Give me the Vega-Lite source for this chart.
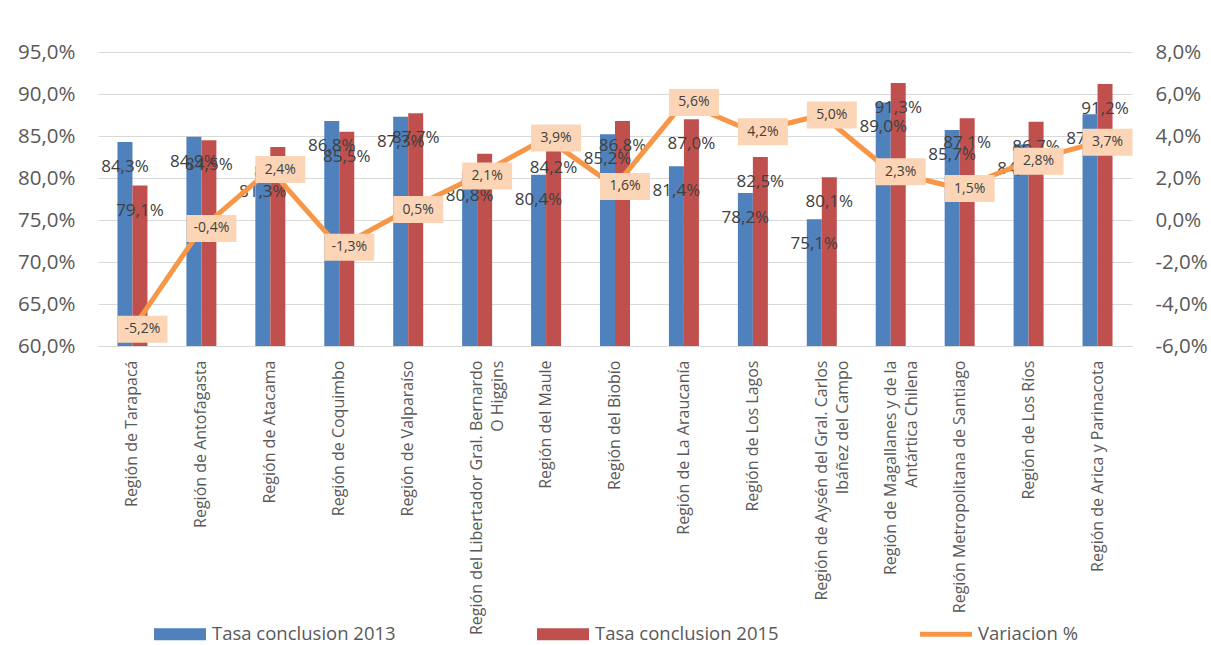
{
  "$schema": "https://vega.github.io/schema/vega-lite/v6.json",
  "width": 1034,
  "height": 294,
  "autosize": {"type": "none"},
  "padding": {"left": 98, "top": 52, "right": 79, "bottom": 299},
  "background": "white",
  "config": {
    "locale": {"number": {"decimal": ",", "thousands": ".", "grouping": [3], "currency": ["$", ""], "minus": "-"}},
    "view": {"stroke": null},
    "font": "Open Sans",
    "legend": {
      "orient": "none",
      "legendX": 56,
      "legendY": 556,
      "direction": "horizontal",
      "title": null,
      "symbolType": "M-1,-0.23H1V0.23H-1Z",
      "symbolSize": 2704,
      "symbolStrokeWidth": 0,
      "labelFont": "Open Sans",
      "labelFontSize": 18.5,
      "labelColor": "#595959",
      "labelOffset": 6,
      "labelLimit": 400,
      "columnPadding": 141
    }
  },
  "datasets": {
    "tasas": [
      {"region": "Región de Tarapacá", "serie": "Tasa conclusion 2013", "tasa": 0.843},
      {"region": "Región de Tarapacá", "serie": "Tasa conclusion 2015", "tasa": 0.791},
      {"region": "Región de Antofagasta", "serie": "Tasa conclusion 2013", "tasa": 0.849},
      {"region": "Región de Antofagasta", "serie": "Tasa conclusion 2015", "tasa": 0.845},
      {"region": "Región de Atacama", "serie": "Tasa conclusion 2013", "tasa": 0.813},
      {"region": "Región de Atacama", "serie": "Tasa conclusion 2015", "tasa": 0.837},
      {"region": "Región de Coquimbo", "serie": "Tasa conclusion 2013", "tasa": 0.868},
      {"region": "Región de Coquimbo", "serie": "Tasa conclusion 2015", "tasa": 0.855},
      {"region": "Región de Valparaíso", "serie": "Tasa conclusion 2013", "tasa": 0.873},
      {"region": "Región de Valparaíso", "serie": "Tasa conclusion 2015", "tasa": 0.877},
      {"region": "Región del Libertador Gral. Bernardo O Higgins", "serie": "Tasa conclusion 2013", "tasa": 0.808},
      {"region": "Región del Libertador Gral. Bernardo O Higgins", "serie": "Tasa conclusion 2015", "tasa": 0.829},
      {"region": "Región del Maule", "serie": "Tasa conclusion 2013", "tasa": 0.804},
      {"region": "Región del Maule", "serie": "Tasa conclusion 2015", "tasa": 0.842},
      {"region": "Región del Biobío", "serie": "Tasa conclusion 2013", "tasa": 0.852},
      {"region": "Región del Biobío", "serie": "Tasa conclusion 2015", "tasa": 0.868},
      {"region": "Región de La Araucanía", "serie": "Tasa conclusion 2013", "tasa": 0.814},
      {"region": "Región de La Araucanía", "serie": "Tasa conclusion 2015", "tasa": 0.870},
      {"region": "Región de Los Lagos", "serie": "Tasa conclusion 2013", "tasa": 0.782},
      {"region": "Región de Los Lagos", "serie": "Tasa conclusion 2015", "tasa": 0.825},
      {"region": "Región de Aysén del Gral. Carlos Ibáñez del Campo", "serie": "Tasa conclusion 2013", "tasa": 0.751},
      {"region": "Región de Aysén del Gral. Carlos Ibáñez del Campo", "serie": "Tasa conclusion 2015", "tasa": 0.801},
      {"region": "Región de Magallanes y de la Antártica Chilena", "serie": "Tasa conclusion 2013", "tasa": 0.890},
      {"region": "Región de Magallanes y de la Antártica Chilena", "serie": "Tasa conclusion 2015", "tasa": 0.913},
      {"region": "Región Metropolitana de Santiago", "serie": "Tasa conclusion 2013", "tasa": 0.857},
      {"region": "Región Metropolitana de Santiago", "serie": "Tasa conclusion 2015", "tasa": 0.871},
      {"region": "Región de Los Ríos", "serie": "Tasa conclusion 2013", "tasa": 0.840},
      {"region": "Región de Los Ríos", "serie": "Tasa conclusion 2015", "tasa": 0.867},
      {"region": "Región de Arica y Parinacota", "serie": "Tasa conclusion 2013", "tasa": 0.876},
      {"region": "Región de Arica y Parinacota", "serie": "Tasa conclusion 2015", "tasa": 0.912}
    ],
    "variacion": [
      {"region": "Región de Tarapacá", "variacion": -0.052},
      {"region": "Región de Antofagasta", "variacion": -0.004},
      {"region": "Región de Atacama", "variacion": 0.024},
      {"region": "Región de Coquimbo", "variacion": -0.013},
      {"region": "Región de Valparaíso", "variacion": 0.005},
      {"region": "Región del Libertador Gral. Bernardo O Higgins", "variacion": 0.021},
      {"region": "Región del Maule", "variacion": 0.039},
      {"region": "Región del Biobío", "variacion": 0.016},
      {"region": "Región de La Araucanía", "variacion": 0.056},
      {"region": "Región de Los Lagos", "variacion": 0.042},
      {"region": "Región de Aysén del Gral. Carlos Ibáñez del Campo", "variacion": 0.050},
      {"region": "Región de Magallanes y de la Antártica Chilena", "variacion": 0.023},
      {"region": "Región Metropolitana de Santiago", "variacion": 0.015},
      {"region": "Región de Los Ríos", "variacion": 0.028},
      {"region": "Región de Arica y Parinacota", "variacion": 0.037}
    ]
  },
  "encoding": {
    "x": {
      "field": "region",
      "type": "nominal",
      "sort": null,
      "scale": {"paddingInner": 0.565, "paddingOuter": 0.2825},
      "axis": {
        "title": null,
        "labelAngle": -90,
        "labelFont": "Open Sans",
        "labelFontSize": 16,
        "labelColor": "#595959",
        "labelPadding": 14,
        "labelLimit": 400,
        "labelLineHeight": 21,
        "ticks": false,
        "domain": true,
        "domainColor": "#D9D9D9",
        "domainWidth": 1,
        "grid": false,
        "labelExpr": "datum.label == 'Región del Libertador Gral. Bernardo O Higgins' ? ['Región del Libertador Gral. Bernardo', 'O Higgins'] : datum.label == 'Región de Aysén del Gral. Carlos Ibáñez del Campo' ? ['Región de Aysén del Gral. Carlos', 'Ibáñez del Campo'] : datum.label == 'Región de Magallanes y de la Antártica Chilena' ? ['Región de Magallanes y de la', 'Antártica Chilena'] : datum.label"
      }
    }
  },
  "layer": [
    {
      "data": {"name": "tasas"},
      "encoding": {
        "y": {
          "field": "tasa",
          "type": "quantitative",
          "scale": {"domain": [0.6, 0.95], "zero": false, "nice": false},
          "axis": {
            "orient": "left",
            "title": null,
            "values": [0.6, 0.65, 0.7, 0.75, 0.8, 0.85, 0.9, 0.95],
            "format": ".1%",
            "labelFont": "Open Sans",
            "labelFontSize": 20.5,
            "labelColor": "#595959",
            "labelPadding": 23,
            "ticks": false,
            "domain": false,
            "grid": true,
            "gridColor": "#D9D9D9",
            "gridWidth": 1
          }
        },
        "xOffset": {"field": "serie", "type": "nominal", "scale": {"paddingInner": 0, "paddingOuter": 0}}
      },
      "layer": [
        {
          "mark": {"type": "bar"},
          "encoding": {
            "y2": {"datum": 0.6},
            "color": {
              "field": "serie",
              "type": "nominal",
              "scale": {
                "domain": ["Tasa conclusion 2013", "Tasa conclusion 2015", "Variacion %"],
                "range": ["#4F81BD", "#C0504D", "#F79646"]
              },
              "legend": {
                "encode": {
                  "symbols": {
                    "update": {
                      "shape": {"signal": "datum.value === 'Variacion %' ? 'M-1,-0.1H1V0.1H-1Z' : 'M-1,-0.23H1V0.23H-1Z'"},
                      "fill": {"signal": "scale('color', datum.value)"},
                      "strokeWidth": {"value": 0},
                      "opacity": {"value": 1}
                    }
                  }
                }
              }
            }
          }
        },
        {
          "mark": {"type": "text", "dy": 25, "fontSize": 17, "font": "Open Sans", "color": "#404040", "baseline": "middle", "align": "center"},
          "encoding": {
            "text": {"field": "tasa", "type": "quantitative", "format": ".1%"}
          }
        }
      ]
    },
    {
      "data": {"name": "variacion"},
      "encoding": {
        "y": {
          "field": "variacion",
          "type": "quantitative",
          "scale": {"domain": [-0.06, 0.08], "zero": false, "nice": false},
          "axis": {
            "orient": "right",
            "title": null,
            "values": [-0.06, -0.04, -0.02, 0, 0.02, 0.04, 0.06, 0.08],
            "format": ".1%",
            "labelFont": "Open Sans",
            "labelFontSize": 20.5,
            "labelColor": "#595959",
            "labelPadding": 23,
            "ticks": false,
            "domain": false,
            "grid": false
          }
        }
      },
      "layer": [
        {
          "mark": {"type": "line", "strokeWidth": 5, "strokeJoin": "round", "strokeCap": "round"},
          "encoding": {"color": {"datum": "Variacion %"}}
        },
        {
          "mark": {"type": "point", "filled": true, "fill": "#FBD5B5", "opacity": 1, "strokeWidth": 0, "size": 2500, "shape": "M-0.6,-0.54H1.4V0.54H-0.6Z"},
          "encoding": {}
        },
        {
          "mark": {"type": "text", "dx": 10, "fontSize": 14, "font": "Open Sans", "color": "#404040", "baseline": "middle", "align": "center"},
          "encoding": {"text": {"field": "variacion", "type": "quantitative", "format": ".1%"}}
        }
      ]
    }
  ],
  "resolve": {"scale": {"y": "independent"}, "axis": {"y": "independent"}}
}
